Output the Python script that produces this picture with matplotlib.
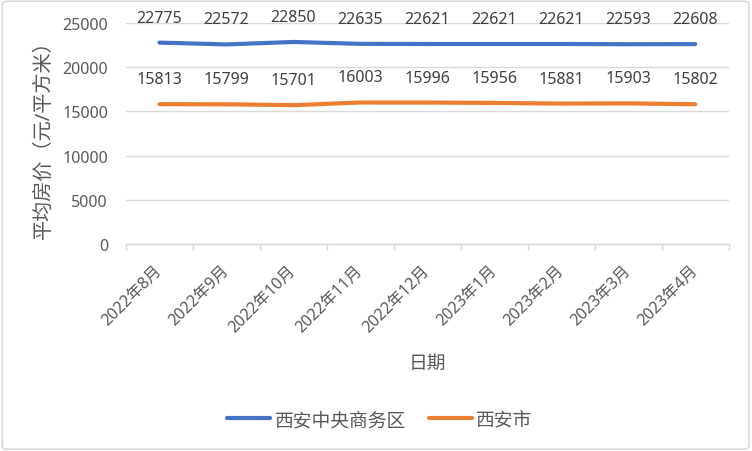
import matplotlib.pyplot as plt
from matplotlib.patches import FancyBboxPatch

plt.rcParams['font.family'] = ['Noto Sans', 'Noto Sans CJK SC', 'DejaVu Sans']

months = ['2022年8月', '2022年9月', '2022年10月', '2022年11月', '2022年12月',
          '2023年1月', '2023年2月', '2023年3月', '2023年4月']
cbd = [22775, 22572, 22850, 22635, 22621, 22621, 22621, 22593, 22608]
city = [15813, 15799, 15701, 16003, 15996, 15956, 15881, 15903, 15802]

grey = '#595959'
fig = plt.figure(figsize=(7.52, 4.52), dpi=100)
ax = fig.add_axes([0.1676, 0.458, 0.8014, 0.489])

x = list(range(len(months)))
ax.plot(x, cbd, color='#4472C4', lw=3.0, label='西安中央商务区', solid_capstyle='round')
ax.plot(x, city, color='#ED7D31', lw=3.0, label='西安市', solid_capstyle='round')

# data labels sit a fixed distance above each point
for series in (cbd, city):
    for i, v in enumerate(series):
        ax.annotate(str(v), (i, v), xytext=(0, 18), textcoords='offset points',
                    ha='center', va='center', fontsize=11.5, color='#404040')

ax.set_xlim(-0.5, 8.5)
ax.set_ylim(0, 25000)
ax.set_yticks(range(0, 25001, 5000))
ax.grid(axis='y', color='#D9D9D9', lw=1)
ax.set_axisbelow(True)
for s in ['top', 'right', 'left']:
    ax.spines[s].set_visible(False)
ax.spines['bottom'].set_color('#D9D9D9')
ax.spines['bottom'].set_linewidth(1)
ax.tick_params(axis='y', length=0, labelsize=11.5, colors=grey, pad=13)
ax.set_xticks(x)
ax.set_xticklabels(months, rotation=45, ha='right', va='center', rotation_mode='anchor',
                   fontsize=11.5, color=grey)
ax.tick_params(axis='x', which='major', length=0, pad=17)
ax.set_xticks([i - 0.5 for i in range(len(months) + 1)], minor=True)
ax.tick_params(axis='x', which='minor', length=4, width=1, color='#D9D9D9', direction='out')
ax.set_ylabel('平均房价（元/平方米）', fontsize=14.5, color=grey, labelpad=6)
ax.set_xlabel('日期', fontsize=13.5, color=grey, labelpad=14)

fig.legend(loc='center', bbox_to_anchor=(0.505, 1 - 421 / 452), ncol=2, frameon=False,
           fontsize=13.5, handlelength=2.3, handletextpad=0.25, columnspacing=1.2,
           labelcolor=grey)

border = FancyBboxPatch((0.003, 0.004), 0.993, 0.991, boxstyle='round,pad=0,rounding_size=0.008',
                        transform=fig.transFigure, fill=False, ec='#D9D9D9', lw=1.2)
fig.patches.append(border)

fig.savefig('out.png', dpi=100)
